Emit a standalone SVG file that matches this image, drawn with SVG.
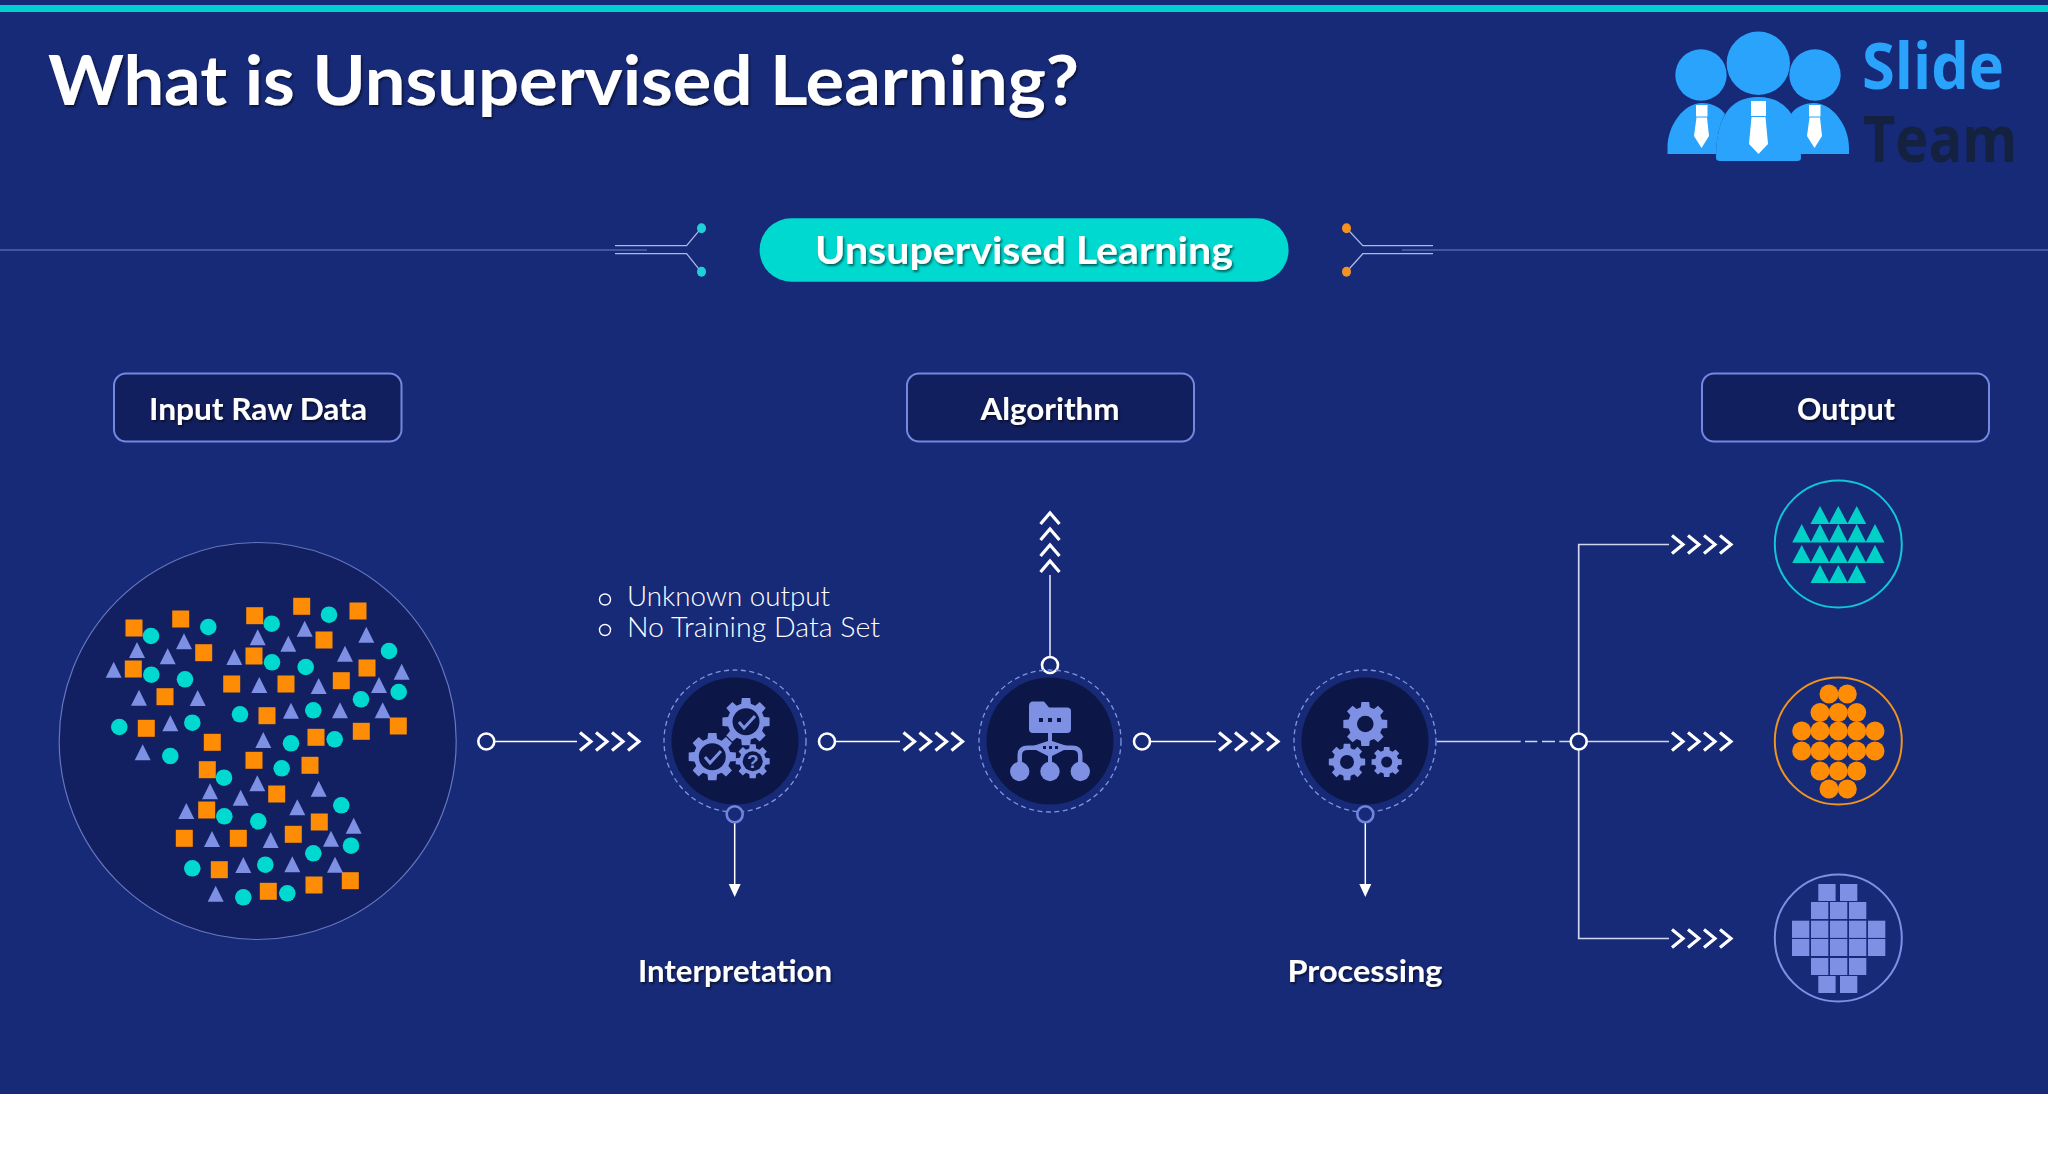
<svg xmlns="http://www.w3.org/2000/svg" width="2048" height="1152" viewBox="0 0 2048 1152">
<style>
text{font-family:"Lato","Liberation Sans",sans-serif;fill:#fff}
.hd{font-weight:700;filter:url(#sh)}
.ln{fill:none;stroke:#fff;stroke-width:1.500}
.lnb{fill:none;stroke:#d0d6f2;stroke-width:1.700}
.ch{fill:none;stroke:#fff;stroke-width:3.200}
.dot{fill:#172a78;stroke:#fff;stroke-width:2.600}
.dotb{fill:#172a78;stroke:#7284dc;stroke-width:2.600}
.box{fill:#121f5f;stroke:#7488e0;stroke-width:2}
.core{fill:#0c1748}
.dash{fill:none;stroke:#8294e0;stroke-width:1.300;stroke-dasharray:5 3.500}
.s{fill:#ff8c05}.c{fill:#00d9cf}.t{fill:#7e90e4}
.i{fill:#7e90e4}
</style>
<defs>
<filter id="sh" x="-5%" y="-20%" width="110%" height="140%"><feDropShadow dx="1.500" dy="2" stdDeviation="1.200" flood-color="#000" flood-opacity=".55"/></filter>
<g id="chev"><path class="ch" d="M0 -9L11 0L0 9M16 -9L27 0L16 9M32 -9L43 0L32 9M48 -9L59 0L48 9"/></g>
<rect id="sq" x="-8.500" y="-8.500" width="17" height="17"/>
<circle id="cr" r="8.300"/>
<path id="tr" d="M0 -8L8 8H-8Z"/>
<path id="gear" d="M-4.200 -23.600L4.200 -23.600L4.800 -17.900L9.300 -16.050L13.700 -19.700L19.700 -13.700L16.050 -9.300L17.900 -4.800L23.600 -4.200L23.600 4.200L17.900 4.800L16.050 9.300L19.700 13.700L13.700 19.700L9.300 16.050L4.800 17.900L4.200 23.600L-4.200 23.600L-4.800 17.900L-9.300 16.050L-13.700 19.700L-19.700 13.700L-16.050 9.300L-17.900 4.800L-23.600 4.200L-23.600 -4.200L-17.900 -4.800L-16.050 -9.300L-19.700 -13.700L-13.700 -19.700L-9.300 -16.050L-4.800 -17.900Z"/>
</defs>
<rect width="2048" height="1152" fill="#fff"/>
<rect width="2048" height="1094" fill="#172a78"/>
<rect y="5" width="2048" height="7" fill="#00d0d0"/>
<text class="hd" x="48" y="105" font-size="69" textLength="1031" lengthAdjust="spacingAndGlyphs">What is Unsupervised Learning?</text>
<g id="logo">
<g fill="#29a3fb">
<circle cx="1701" cy="75" r="25.700"/><circle cx="1815" cy="75" r="25.700"/>
<path d="M1667.500 154V148C1667.500 125 1684 103 1702 103C1712 103 1720 107 1725 114Q1717 128 1716 154Z"/>
<path d="M1849 154V148C1849 125 1832 103 1814 103C1804 103 1796 107 1791 114Q1799 128 1800 154Z"/>
<circle cx="1758.300" cy="63.300" r="31.700"/>
<path d="M1716 158Q1716 97 1758 97Q1801 97 1801 158Q1801 161 1797 161H1720Q1716 161 1716 158Z"/>
</g>
<g fill="#fff">
<rect x="1696" y="105" width="11.500" height="11.500"/><path d="M1696.500 117.500H1707L1709 136L1701.500 148L1694 136Z"/>
<rect x="1809" y="105" width="11.500" height="11.500"/><path d="M1809.500 117.500H1820L1822 136L1814.500 148L1807 136Z"/>
<rect x="1751" y="101" width="15" height="15"/><path d="M1751.500 117H1765.500L1768 144L1758.500 154L1749 144Z"/>
</g>
<text x="1862" y="89" font-size="64" font-weight="700" style="font-family:'Open Sans',sans-serif;fill:#29a3fb" textLength="142" lengthAdjust="spacingAndGlyphs">Slide</text>
<text x="1863" y="162" font-size="64" font-weight="700" style="font-family:'Open Sans',sans-serif;fill:#14213f" textLength="154" lengthAdjust="spacingAndGlyphs">Team</text>
</g>
<g id="connectors">
<g stroke="#6f80c8" stroke-width="1.200" fill="none"><path d="M0 250H647M1402 250H2048"/></g>
<g stroke="#aeb8e6" stroke-width="1.300" fill="none"><path d="M615 245.700H686.600L701 228.300M615 253.700H686.600L701 271.700M1433 245.700H1362.800L1346.600 228.300M1433 253.700H1362.800L1346.600 271.700"/></g>
<g fill="#1fd0d6"><ellipse cx="701.500" cy="228.300" rx="4.500" ry="5"/><ellipse cx="701.500" cy="271.700" rx="4.500" ry="5"/></g>
<g fill="#f59222"><ellipse cx="1346.500" cy="228.300" rx="4.500" ry="5"/><ellipse cx="1346.500" cy="271.700" rx="4.500" ry="5"/></g>
<path class="ln" d="M495 741.500H577M836 741.500H900M1151 741.500H1216"/>
<use href="#chev" x="580" y="741.500"/><use href="#chev" x="903.500" y="741.500"/><use href="#chev" x="1219" y="741.500"/>
<circle class="dot" cx="486.300" cy="741.500" r="8"/><circle class="dot" cx="827" cy="741.500" r="8"/><circle class="dot" cx="1142" cy="741.500" r="8"/>
<path class="ln" d="M734.700 823V885"/><path d="M728.700 884H740.700L734.700 897Z" fill="#fff"/>
<path class="ln" d="M1365.300 823V885"/><path d="M1359.300 884H1371.300L1365.300 897Z" fill="#fff"/>
<path class="lnb" d="M1050 575V657"/>
<path class="ch" d="M1040.500 524L1050 513L1059.500 524M1040.500 540L1050 529L1059.500 540M1040.500 556L1050 545L1059.500 556M1040.500 572L1050 561L1059.500 572"/>
<circle class="dot" cx="1050" cy="665" r="8"/>
<path class="lnb" d="M1436.700 741.500H1520.700M1525 741.500H1537.300M1542 741.500H1555M1559.300 741.500H1570.700M1587 741.500H1669M1669 544.500H1578.700V938.500H1669"/>
<circle class="dot" cx="1578.700" cy="741.500" r="8"/>
<use href="#chev" x="1672" y="544.500"/><use href="#chev" x="1672" y="741.500"/><use href="#chev" x="1672" y="938.500"/>
</g>
<g id="pill"><rect x="759.600" y="218.300" width="529" height="63.400" rx="31.700" fill="#00d9cf"/>
<text class="hd" x="1024" y="264" font-size="38" text-anchor="middle" textLength="418" lengthAdjust="spacingAndGlyphs">Unsupervised Learning</text></g>
<g id="input-label"><rect class="box" x="114" y="373.500" width="287.500" height="68" rx="12"/><text class="hd" x="258" y="420" font-size="30" text-anchor="middle" textLength="218" lengthAdjust="spacingAndGlyphs">Input Raw Data</text></g>
<g id="algorithm-label"><rect class="box" x="907" y="373.500" width="287" height="68" rx="12"/><text class="hd" x="1050" y="420" font-size="30" text-anchor="middle" textLength="139" lengthAdjust="spacingAndGlyphs">Algorithm</text></g>
<g id="output-label"><rect class="box" x="1702" y="373.500" width="287" height="68" rx="12"/><text class="hd" x="1846" y="420" font-size="30" text-anchor="middle" textLength="98" lengthAdjust="spacingAndGlyphs">Output</text></g>
<g id="raw-data"><circle cx="257.700" cy="741" r="198.500" fill="#121f60" stroke="#6676bd" stroke-width="1.200"/>
<g class="s"><use href="#sq" x="134" y="628"/><use href="#sq" x="180.700" y="619"/><use href="#sq" x="254.700" y="615.700"/><use href="#sq" x="301.700" y="606.300"/><use href="#sq" x="358" y="611"/><use href="#sq" x="324" y="640"/><use href="#sq" x="203.700" y="652.700"/><use href="#sq" x="254" y="656"/><use href="#sq" x="133.300" y="669"/><use href="#sq" x="367" y="668"/><use href="#sq" x="341.300" y="680.700"/><use href="#sq" x="231.700" y="684"/><use href="#sq" x="286" y="684"/><use href="#sq" x="165" y="696.700"/><use href="#sq" x="267" y="715.700"/><use href="#sq" x="146.300" y="728.300"/><use href="#sq" x="398.300" y="726"/><use href="#sq" x="361.300" y="731.300"/><use href="#sq" x="316" y="737.300"/><use href="#sq" x="212.300" y="742.300"/><use href="#sq" x="254" y="760.300"/><use href="#sq" x="310" y="765.300"/><use href="#sq" x="207.300" y="769.700"/><use href="#sq" x="276.700" y="794"/><use href="#sq" x="206.700" y="810"/><use href="#sq" x="319.300" y="822"/><use href="#sq" x="293.300" y="834.300"/><use href="#sq" x="184.300" y="838.300"/><use href="#sq" x="238.300" y="838.300"/><use href="#sq" x="219.300" y="869.700"/><use href="#sq" x="350.300" y="880.700"/><use href="#sq" x="314" y="885"/><use href="#sq" x="268.300" y="891.300"/></g>
<g class="c"><use href="#cr" x="151" y="636"/><use href="#cr" x="208.300" y="627"/><use href="#cr" x="271.700" y="623.700"/><use href="#cr" x="329" y="614.700"/><use href="#cr" x="389" y="651"/><use href="#cr" x="272" y="662.300"/><use href="#cr" x="305.700" y="667"/><use href="#cr" x="151.300" y="674.700"/><use href="#cr" x="185" y="679.300"/><use href="#cr" x="398.700" y="692"/><use href="#cr" x="361" y="699.300"/><use href="#cr" x="313.300" y="710.300"/><use href="#cr" x="240" y="714.300"/><use href="#cr" x="192.300" y="722.700"/><use href="#cr" x="119.300" y="727"/><use href="#cr" x="334.700" y="739.300"/><use href="#cr" x="291" y="743.300"/><use href="#cr" x="170.300" y="756"/><use href="#cr" x="281.700" y="768.300"/><use href="#cr" x="224" y="777.700"/><use href="#cr" x="341.300" y="805.300"/><use href="#cr" x="224.300" y="816.300"/><use href="#cr" x="258.300" y="821.300"/><use href="#cr" x="351" y="845.700"/><use href="#cr" x="313.300" y="853.300"/><use href="#cr" x="192.300" y="868.300"/><use href="#cr" x="265.300" y="864.700"/><use href="#cr" x="287.300" y="893.300"/><use href="#cr" x="243.300" y="897.300"/></g>
<g class="t"><use href="#tr" x="304.700" y="628.700"/><use href="#tr" x="257.700" y="637.300"/><use href="#tr" x="184" y="641.300"/><use href="#tr" x="137" y="650"/><use href="#tr" x="366.300" y="634.700"/><use href="#tr" x="288.300" y="643.700"/><use href="#tr" x="167.700" y="656.300"/><use href="#tr" x="234.300" y="657"/><use href="#tr" x="345" y="653.700"/><use href="#tr" x="113.700" y="669.700"/><use href="#tr" x="401.700" y="671.700"/><use href="#tr" x="259.300" y="685"/><use href="#tr" x="318.700" y="686"/><use href="#tr" x="379" y="685"/><use href="#tr" x="139" y="697.700"/><use href="#tr" x="197.700" y="698"/><use href="#tr" x="291" y="710.700"/><use href="#tr" x="340" y="710.300"/><use href="#tr" x="382.700" y="710.300"/><use href="#tr" x="170.300" y="723.300"/><use href="#tr" x="263.300" y="740"/><use href="#tr" x="142.700" y="752.300"/><use href="#tr" x="257.300" y="783.300"/><use href="#tr" x="210" y="791.300"/><use href="#tr" x="318.700" y="788.700"/><use href="#tr" x="240.700" y="797.700"/><use href="#tr" x="297.300" y="807.300"/><use href="#tr" x="186.300" y="811"/><use href="#tr" x="353.700" y="825.700"/><use href="#tr" x="212" y="839"/><use href="#tr" x="270.700" y="840"/><use href="#tr" x="331" y="838.700"/><use href="#tr" x="243.300" y="865"/><use href="#tr" x="292.300" y="864.300"/><use href="#tr" x="335" y="864.700"/><use href="#tr" x="215.700" y="893.700"/></g>
</g>
<g id="notes"><circle cx="605" cy="599.500" r="5.500" fill="none" stroke="#fff" stroke-width="1.400"/><circle cx="605" cy="630" r="5.500" fill="none" stroke="#fff" stroke-width="1.400"/>
<text x="627" y="606" font-size="27" font-weight="300" textLength="203" lengthAdjust="spacingAndGlyphs">Unknown output</text>
<text x="627" y="637" font-size="27" font-weight="300" textLength="253" lengthAdjust="spacingAndGlyphs">No Training Data Set</text></g>
<g id="interpretation"><circle class="core" cx="735" cy="741" r="63.500"/><circle class="dash" cx="735" cy="741" r="71"/>
<g class="i"><use href="#gear" transform="translate(746 721.700)"/><use href="#gear" transform="translate(712.300 756.700)"/><use href="#gear" transform="translate(752.700 761.300) scale(.72)"/></g>
<g class="core"><circle cx="746" cy="721.700" r="13.500"/><circle cx="712.300" cy="756.700" r="13.500"/><circle cx="752.700" cy="761.300" r="10"/></g>
<path d="M705 757L710 763L721 751M739 722L744 728L755 716" fill="none" stroke="#7e90e4" stroke-width="3"/>
<text x="752.700" y="768" font-size="19" font-weight="700" text-anchor="middle" style="fill:#7e90e4;font-family:'Liberation Sans',sans-serif">?</text>
<circle class="dotb" cx="734.700" cy="814.300" r="8"/></g>
<g id="algorithm"><circle class="core" cx="1050" cy="741" r="63.500"/><circle class="dash" cx="1050" cy="741" r="71"/>
<path class="i" d="M1029 706Q1029 701.500 1033 701.500H1044L1049 707.500H1067Q1071 707.500 1071 711V729Q1071 733 1067 733H1033Q1029 733 1029 729ZM1048 733H1052V741L1070 747L1052 756V762H1048V756L1030 747L1048 741Z"/>
<path class="i" d="M1017.500 765V755Q1017.500 745.500 1028 745.500H1036V750H1028Q1022 750 1022 755V765ZM1082.500 765V755Q1082.500 745.500 1072 745.500H1064V750H1072Q1078 750 1078 755V765Z"/>
<g class="i"><circle cx="1019.700" cy="771.500" r="9.700"/><circle cx="1050" cy="771.500" r="9.700"/><circle cx="1080.300" cy="771.500" r="9.700"/></g>
<g class="core"><rect x="1039" y="718" width="4" height="4"/><rect x="1048" y="718" width="4" height="4"/><rect x="1057" y="718" width="4" height="4"/><rect x="1043" y="746" width="3" height="3"/><rect x="1049" y="746" width="3" height="3"/><rect x="1055" y="746" width="3" height="3"/></g>
</g>
<g id="processing"><circle class="core" cx="1365" cy="741" r="63.500"/><circle class="dash" cx="1365" cy="741" r="71"/>
<g class="i"><use href="#gear" transform="translate(1365.300 724) scale(.93)"/><use href="#gear" transform="translate(1347 762) scale(.77)"/><use href="#gear" transform="translate(1386.700 762) scale(.64)"/></g>
<g class="core"><circle cx="1365.300" cy="724" r="8.300"/><circle cx="1347" cy="762" r="7"/><circle cx="1386.700" cy="762" r="5.500"/></g>
<circle class="dotb" cx="1365.300" cy="814.300" r="8"/></g>
<text id="lbl-interpretation" class="hd" x="735" y="982" font-size="30" text-anchor="middle" textLength="194" lengthAdjust="spacingAndGlyphs">Interpretation</text>
<text id="lbl-processing" class="hd" x="1365" y="982" font-size="30" text-anchor="middle" textLength="155" lengthAdjust="spacingAndGlyphs">Processing</text>
<g id="out-triangles"><circle cx="1838.300" cy="544" r="63.500" fill="none" stroke="#12c6d6" stroke-width="2"/>
<path fill="#00d0c8" d="M1820 506L1829.500 524H1810.500ZM1838.300 506L1847.800 524H1828.800ZM1856.700 506L1866.200 524H1847.200ZM1801.700 524L1811.200 542.500H1792.200ZM1820 524L1829.500 542.500H1810.500ZM1838.300 524L1847.800 542.500H1828.800ZM1856.700 524L1866.200 542.500H1847.200ZM1875 524L1884.500 542.500H1865.500ZM1801.700 545L1811.200 563H1792.200ZM1820 545L1829.500 563H1810.500ZM1838.300 545L1847.800 563H1828.800ZM1856.700 545L1866.200 563H1847.200ZM1875 545L1884.500 563H1865.500ZM1820 565L1829.500 583H1810.500ZM1838.300 565L1847.800 583H1828.800ZM1856.700 565L1866.200 583H1847.200Z"/></g>
<g id="out-circles"><circle cx="1838.300" cy="741" r="63.500" fill="none" stroke="#ef9321" stroke-width="2"/>
<g fill="#ff8c05"><circle cx="1829" cy="694" r="9.500"/><circle cx="1847.300" cy="694" r="9.500"/><circle cx="1820" cy="712.500" r="9.500"/><circle cx="1838.300" cy="712.500" r="9.500"/><circle cx="1856.700" cy="712.500" r="9.500"/><circle cx="1801.700" cy="731" r="9.500"/><circle cx="1820" cy="731" r="9.500"/><circle cx="1838.300" cy="731" r="9.500"/><circle cx="1856.700" cy="731" r="9.500"/><circle cx="1875" cy="731" r="9.500"/><circle cx="1801.700" cy="751" r="9.500"/><circle cx="1820" cy="751" r="9.500"/><circle cx="1838.300" cy="751" r="9.500"/><circle cx="1856.700" cy="751" r="9.500"/><circle cx="1875" cy="751" r="9.500"/><circle cx="1820" cy="771" r="9.500"/><circle cx="1838.300" cy="771" r="9.500"/><circle cx="1856.700" cy="771" r="9.500"/><circle cx="1829" cy="789" r="9.500"/><circle cx="1847.300" cy="789" r="9.500"/></g></g>
<g id="out-squares"><circle cx="1838.300" cy="938" r="63.500" fill="none" stroke="#7e90e4" stroke-width="2"/>
<g fill="#7e90e4"><rect x="1818.300" y="884" width="17.300" height="17"/><rect x="1840" y="884" width="17.300" height="17"/><rect x="1811" y="902" width="17.300" height="17"/><rect x="1830" y="902" width="17.300" height="17"/><rect x="1849" y="902" width="17.300" height="17"/><rect x="1792" y="920.700" width="17.300" height="17.200"/><rect x="1811" y="920.700" width="17.300" height="17.200"/><rect x="1830" y="920.700" width="17.300" height="17.200"/><rect x="1849" y="920.700" width="17.300" height="17.200"/><rect x="1868" y="920.700" width="17.300" height="17.200"/><rect x="1792" y="939" width="17.300" height="17"/><rect x="1811" y="939" width="17.300" height="17"/><rect x="1830" y="939" width="17.300" height="17"/><rect x="1849" y="939" width="17.300" height="17"/><rect x="1868" y="939" width="17.300" height="17"/><rect x="1811" y="958" width="17.300" height="17"/><rect x="1830" y="958" width="17.300" height="17"/><rect x="1849" y="958" width="17.300" height="17"/><rect x="1818.300" y="976" width="17.300" height="17"/><rect x="1840" y="976" width="17.300" height="17"/></g></g>
</svg>
